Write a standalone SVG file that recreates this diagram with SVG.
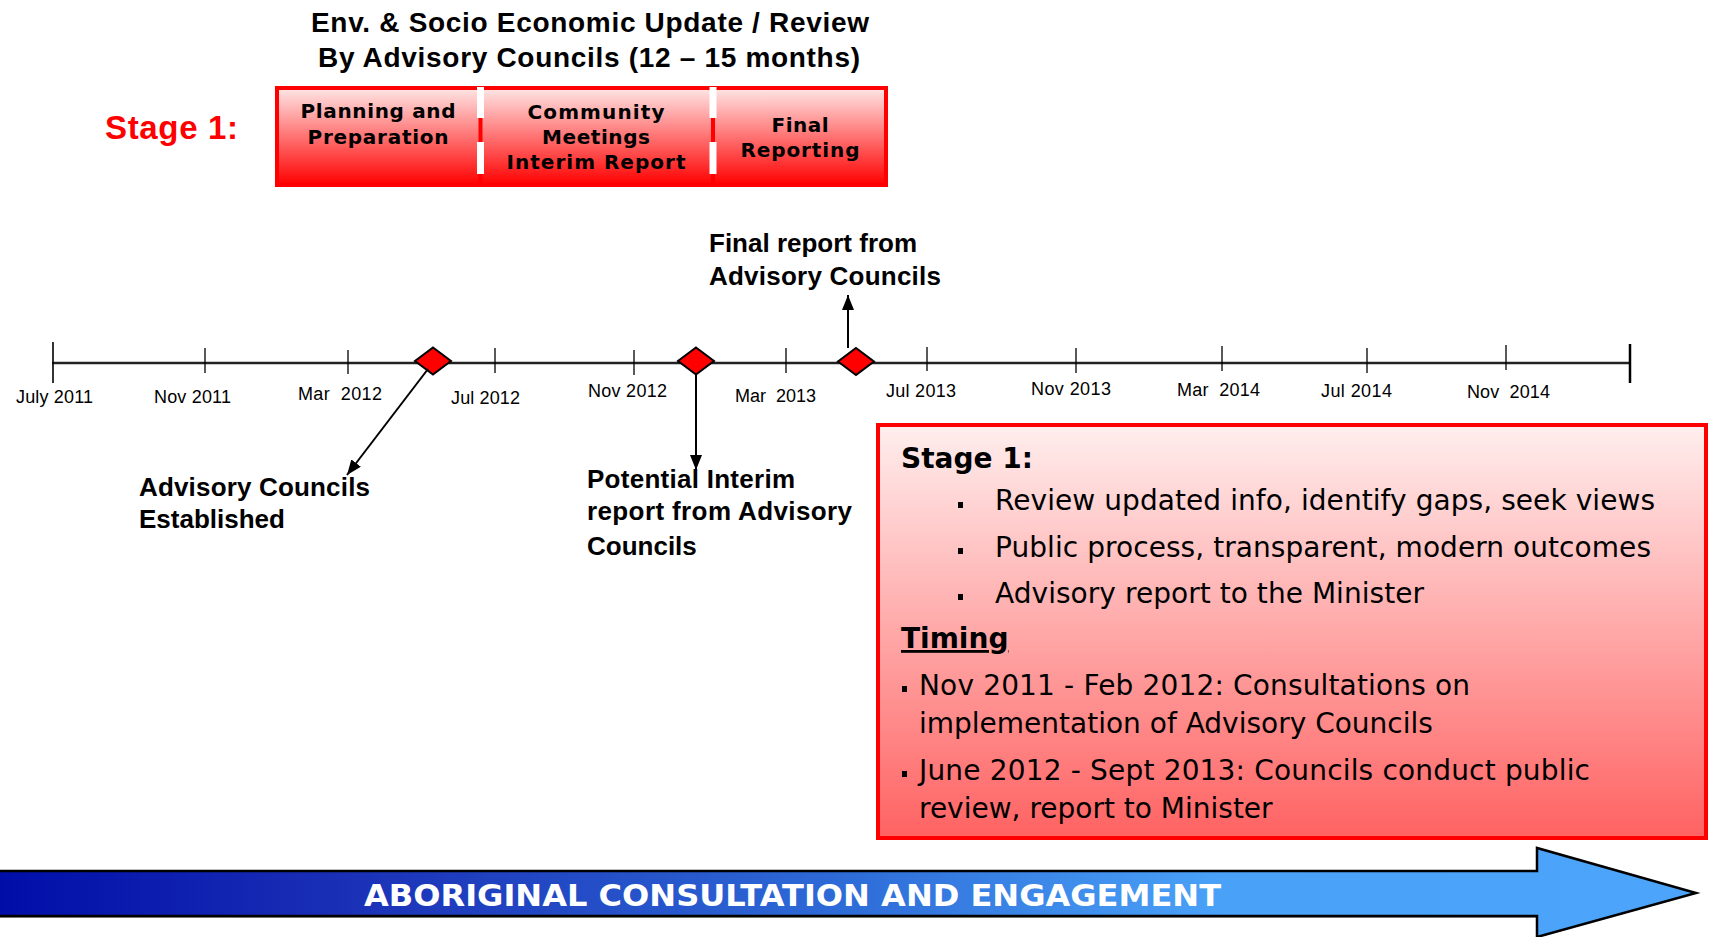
<svg xmlns="http://www.w3.org/2000/svg" width="1712" height="937" viewBox="0 0 1712 937">
<defs>
<linearGradient id="gStage" x1="0" y1="0" x2="0" y2="1">
<stop offset="0" stop-color="#ffe6e6"/>
<stop offset="1" stop-color="#ff0000"/>
</linearGradient>
<linearGradient id="gBox" x1="0" y1="0" x2="0" y2="1">
<stop offset="0" stop-color="#ffeeee"/>
<stop offset="1" stop-color="#ff6262"/>
</linearGradient>
<linearGradient id="gArrow" x1="0" y1="0" x2="1696" y2="0" gradientUnits="userSpaceOnUse">
<stop offset="0" stop-color="#000ea8"/>
<stop offset="0.2" stop-color="#1a2fb6"/>
<stop offset="0.5" stop-color="#2e6cd8"/>
<stop offset="0.72" stop-color="#4aa2f8"/>
<stop offset="1" stop-color="#4ca5fa"/>
</linearGradient>
<marker id="ah" markerUnits="userSpaceOnUse" markerWidth="16" markerHeight="12" refX="15" refY="6" orient="auto">
<path d="M0,0 L15,6 L0,12 Z" fill="#000"/>
</marker>
<style>
.title{font-family:"Liberation Sans",Arial,sans-serif;font-weight:bold;font-size:28px;fill:#000;text-anchor:middle}
.phase{font-family:"DejaVu Sans",Verdana,sans-serif;font-weight:bold;font-size:20px;fill:#000;text-anchor:middle}
.date{font-family:"Liberation Sans",Arial,sans-serif;font-size:18px;fill:#000}
.lbl{font-family:"Liberation Sans",Arial,sans-serif;font-weight:bold;font-size:26px;fill:#000}
.body{font-family:"DejaVu Sans",Verdana,sans-serif;font-size:28px;fill:#000}
.bodyb{font-family:"DejaVu Sans",Verdana,sans-serif;font-size:28px;font-weight:bold;fill:#000}
.tick{stroke:#000;stroke-width:1.3}
.dia{fill:#ff0000;stroke:#000;stroke-width:2}
.conn{stroke:#000;stroke-width:2;fill:none;marker-end:url(#ah)}
</style>
</defs>
<rect width="1712" height="937" fill="#fff"/>

<g id="title">
<text class="title" x="590" y="32" textLength="558">Env. &amp; Socio Economic Update / Review</text>
<text class="title" x="589" y="67" textLength="542">By Advisory Councils (12 – 15 months)</text>
</g>

<g id="stage1-label">
<text x="105" y="139" font-family="Liberation Sans, Arial, sans-serif" font-weight="bold" font-size="33" fill="#ff0000" textLength="133">Stage 1:</text>
</g>

<g id="stage1-phases">
<rect x="277" y="88" width="609" height="97" fill="url(#gStage)" stroke="#ff0000" stroke-width="4"/>
<line x1="480.5" y1="88" x2="480.5" y2="185" stroke="#ff0000" stroke-width="4"/>
<rect x="477" y="87" width="7" height="31" fill="#fff"/>
<rect x="477" y="142" width="7" height="32" fill="#fff"/>
<line x1="713" y1="88" x2="713" y2="185" stroke="#ff0000" stroke-width="4"/>
<rect x="709.5" y="87" width="7" height="31" fill="#fff"/>
<rect x="709.5" y="142" width="7" height="32" fill="#fff"/>
<g id="phase-planning">
<text class="phase" x="378" y="118" textLength="155">Planning and</text>
<text class="phase" x="378" y="144" textLength="141">Preparation</text>
</g>
<g id="phase-community">
<text class="phase" x="596" y="119" textLength="137">Community</text>
<text class="phase" x="596" y="144" textLength="108">Meetings</text>
<text class="phase" x="596" y="169" textLength="179">Interim Report</text>
</g>
<g id="phase-final">
<text class="phase" x="800" y="132" textLength="57">Final</text>
<text class="phase" x="800" y="157" textLength="119">Reporting</text>
</g>
</g>

<g id="timeline">
<line x1="52" y1="363" x2="1630" y2="363" stroke="#222" stroke-width="2.5"/>
<line x1="53" y1="342" x2="53" y2="383" stroke="#000" stroke-width="1.6"/>
<line class="tick" x1="205" y1="348" x2="205" y2="373"/>
<line class="tick" x1="348" y1="350" x2="348" y2="374"/>
<line class="tick" x1="495" y1="348" x2="495" y2="373"/>
<line class="tick" x1="634" y1="350" x2="634" y2="375"/>
<line class="tick" x1="786" y1="348" x2="786" y2="373"/>
<line class="tick" x1="927" y1="347" x2="927" y2="371"/>
<line class="tick" x1="1076" y1="348" x2="1076" y2="373"/>
<line class="tick" x1="1222" y1="346" x2="1222" y2="371"/>
<line class="tick" x1="1367" y1="348" x2="1367" y2="373"/>
<line class="tick" x1="1506" y1="345" x2="1506" y2="370"/>
<line x1="1630" y1="344" x2="1630" y2="383" stroke="#000" stroke-width="2.5"/>
<text class="date" x="16" y="403" textLength="77">July 2011</text>
<text class="date" x="154" y="403" textLength="77">Nov 2011</text>
<text class="date" x="298" y="400" textLength="84" xml:space="preserve">Mar  2012</text>
<text class="date" x="451" y="404" textLength="69">Jul 2012</text>
<text class="date" x="588" y="397" textLength="79">Nov 2012</text>
<text class="date" x="735" y="402" textLength="81" xml:space="preserve">Mar  2013</text>
<text class="date" x="886" y="397" textLength="70">Jul 2013</text>
<text class="date" x="1031" y="395" textLength="80">Nov 2013</text>
<text class="date" x="1177" y="396" textLength="83" xml:space="preserve">Mar  2014</text>
<text class="date" x="1321" y="397" textLength="71">Jul 2014</text>
<text class="date" x="1467" y="398" textLength="83" xml:space="preserve">Nov  2014</text>
</g>

<g id="milestone-established">
<polygon class="dia" points="433,347.5 451,361 433,374.5 415,361"/>
<text class="lbl" x="139" y="496" textLength="231">Advisory Councils</text>
<text class="lbl" x="139" y="528">Established</text>
</g>
<g id="milestone-interim">
<polygon class="dia" points="696,347.5 714,361 696,374.5 678,361"/>
<text class="lbl" x="587" y="488" textLength="208">Potential Interim</text>
<text class="lbl" x="587" y="520" textLength="265">report from Advisory</text>
<text class="lbl" x="587" y="555">Councils</text>
</g>
<g id="milestone-final">
<polygon class="dia" points="856,348 874,361.5 856,375 838,361.5"/>
<text class="lbl" x="709" y="252">Final report from</text>
<text class="lbl" x="709" y="285" textLength="232">Advisory Councils</text>
</g>

<g id="connectors">
<line class="conn" x1="428" y1="369" x2="347" y2="475"/>
<line class="conn" x1="696" y1="374" x2="696" y2="470"/>
<line class="conn" x1="848" y1="348" x2="848" y2="295"/>
</g>

<g id="stage1-details">
<rect x="878" y="425" width="828" height="413" fill="url(#gBox)" stroke="#ff0000" stroke-width="4"/>
<text class="bodyb" x="901" y="468">Stage 1:</text>
<rect x="958" y="502" width="5" height="6" fill="#000"/>
<text class="body" x="995" y="510" textLength="660">Review updated info, identify gaps, seek views</text>
<rect x="958" y="548" width="5" height="6" fill="#000"/>
<text class="body" x="995" y="557" textLength="656">Public process, transparent, modern outcomes</text>
<rect x="958" y="594" width="5" height="6" fill="#000"/>
<text class="body" x="995" y="603" textLength="429">Advisory report to the Minister</text>
<text class="bodyb" x="901" y="648" text-decoration="underline">Timing</text>
<rect x="902" y="686" width="5" height="6" fill="#000"/>
<text class="body" x="919" y="695" textLength="551">Nov 2011 - Feb 2012: Consultations on</text>
<text class="body" x="919" y="733">implementation of Advisory Councils</text>
<rect x="902" y="771" width="5" height="6" fill="#000"/>
<text class="body" x="919" y="780" textLength="671">June 2012 - Sept 2013: Councils conduct public</text>
<text class="body" x="919" y="818">review, report to Minister</text>
</g>

<g id="engagement-arrow">
<rect x="0" y="915" width="1537" height="3" fill="#999"/>
<polygon points="-2,871 1537,871 1537,848 1696,893 1537,937 1537,916 -2,916" fill="url(#gArrow)" stroke="#000" stroke-width="2.5" stroke-linejoin="miter"/>
<text x="364" y="906" font-family="DejaVu Sans, Verdana, sans-serif" font-weight="bold" font-size="31" fill="#fff" textLength="857" lengthAdjust="spacingAndGlyphs">ABORIGINAL CONSULTATION AND ENGAGEMENT</text>
</g>
</svg>
